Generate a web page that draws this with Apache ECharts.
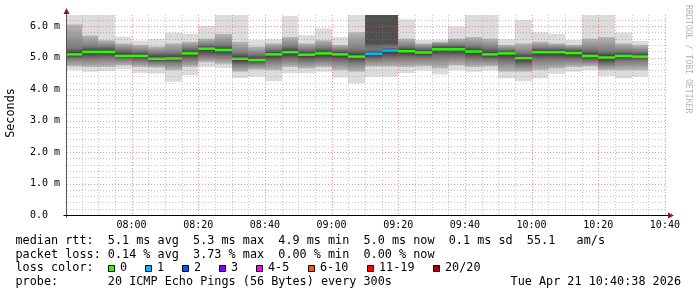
<!DOCTYPE html>
<html><head><meta charset="utf-8">
<script src="https://cdn.jsdelivr.net/npm/echarts@6/dist/echarts.min.js"></script>
<style>html,body{margin:0;padding:0;background:#fff}#c{width:697px;height:297px}</style>
</head><body><div id="c"></div>
<script>
// ---- data ----
const startTimes = ['07:40','07:45','07:50','07:55','08:00','08:05','08:10','08:15','08:20','08:25','08:30','08:35','08:40','08:45','08:50','08:55','09:00','09:05','09:10','09:15','09:20','09:25','09:30','09:35','09:40','09:45','09:50','09:55','10:00','10:05','10:10','10:15','10:20','10:25','10:30'];
const rttMin    = [4.60,4.55,4.57,4.63,4.51,4.49,4.23,4.44,4.70,4.67,4.35,4.39,4.25,4.50,4.50,4.55,4.37,4.18,4.39,4.39,4.51,4.59,4.46,4.60,4.55,4.59,4.34,4.25,4.34,4.48,4.55,4.60,4.41,4.34,4.39];
const rttLo2    = [4.72,4.70,4.70,4.75,4.70,4.68,4.60,4.70,4.85,4.80,4.55,4.62,4.60,4.70,4.65,4.70,4.60,4.55,4.71,4.71,4.70,4.72,4.65,4.75,4.70,4.72,4.55,4.55,4.60,4.65,4.70,4.72,4.60,4.60,4.60];
const rttLo1    = [4.98,4.98,5.00,4.95,4.92,4.85,4.85,4.95,5.05,5.05,4.78,4.80,4.90,4.95,4.90,4.92,4.90,4.85,4.95,4.98,5.00,5.00,5.05,5.05,4.98,4.95,4.90,4.78,4.95,4.95,4.95,4.90,4.80,4.90,4.92];
const rttMedian = [5.10,5.18,5.18,5.05,5.05,4.96,4.97,5.13,5.28,5.24,4.96,4.92,5.10,5.17,5.09,5.13,5.10,5.03,5.12,5.22,5.20,5.16,5.26,5.26,5.19,5.10,5.13,4.98,5.17,5.17,5.14,5.05,5.00,5.05,5.03];
const rttHi1    = [5.30,5.35,5.35,5.25,5.20,5.15,5.15,5.30,5.40,5.40,5.15,5.10,5.25,5.35,5.25,5.30,5.25,5.25,5.25,5.32,5.35,5.30,5.40,5.40,5.35,5.30,5.25,5.15,5.30,5.30,5.28,5.25,5.20,5.20,5.18];
const rttHi2    = [6.05,5.70,5.55,5.45,5.40,5.35,5.45,5.50,5.60,5.75,5.50,5.35,5.45,5.65,5.45,5.55,5.40,5.80,5.40,5.40,5.60,5.45,5.50,5.60,5.65,5.60,5.40,5.45,5.50,5.45,5.40,5.60,5.65,5.45,5.40];
const rttMax    = [7.00,7.00,7.00,5.66,5.54,5.59,5.79,5.75,6.00,7.00,7.00,5.56,5.58,6.32,5.71,5.93,5.65,7.00,7.00,7.00,6.21,5.56,5.57,5.98,7.00,7.00,5.58,6.19,5.80,5.75,5.56,7.00,7.00,5.79,5.53];
const lossCount = [0,0,0,0,0,0,0,0,0,0,0,0,0,0,0,0,0,0,1,1,0,0,0,0,0,0,0,0,0,0,0,0,0,0,0];

const xTickLabels = ['08:00','08:20','08:40','09:00','09:20','09:40','10:00','10:20','10:40'];
const axisStart = '07:40:38', axisEnd = '10:40:38';
const yAxisTitle = 'Seconds';
const lossLegendLabels = ['0','1','2','3','4-5','6-10','11-19','20/20'];
const lossLegendColors = ['#26ff00','#00b8ff','#0059ff','#7e00ff','#ff00ff','#ff5500','#ff0000','#a10000'];
const statLine1 = 'median rtt:  5.1 ms avg  5.3 ms max  4.9 ms min  5.0 ms now  0.1 ms sd  55.1   am/s';
const statLine2 = 'packet loss: 0.14 % avg  3.73 % max  0.00 % min  0.00 % now';
const statLine3 = 'loss color:';
const statLine4 = 'probe:       20 ICMP Echo Pings (56 Bytes) every 300s';
const stampText = 'Tue Apr 21 10:40:38 2026';
const watermark = 'RRDTOOL / TOBI OETIKER';

// ---- helpers ----
function toMin(s){const p=s.split(':').map(Number);return p[0]*60+p[1]+(p[2]||0)/60;}
const xMin = toMin(axisStart), xMax = toMin(axisEnd);
function lossIdx(n){ if(n<=3) return n; if(n<=5) return 4; if(n<=10) return 5; if(n<=19) return 6; return 7; }
const MONO = '"DejaVu Sans Mono", monospace';
const FS = 11.8;   // legend font
const AFS = 10;    // axis font

const smokeData = startTimes.map((t,i)=>[toMin(t), toMin(t)+5, rttMin[i], rttLo2[i], rttLo1[i], rttMedian[i], rttHi1[i], rttHi2[i], rttMax[i], lossCount[i]]);

function renderSmoke(params, api){
  const t0=api.value(0), t1=api.value(1);
  const x0=Math.round(api.coord([t0,0])[0]), x1=Math.round(api.coord([t1,0])[0]);
  const Y=v=>api.coord([t0,v])[1];
  const mn=api.value(2), lo2=api.value(3), lo1=api.value(4), med=api.value(5), hi1=api.value(6), hi2=api.value(7), mx=api.value(8), loss=api.value(9);
  const w=x1-x0;
  const ch=[];
  ch.push({type:'rect',shape:{x:x0,y:Y(mx),width:w,height:Y(mn)-Y(mx)},style:{fill:'#dcdcdc'}});
  if(loss>0){
    ch.push({type:'rect',shape:{x:x0,y:Y(mx),width:w,height:Y(hi2)-Y(mx)},style:{fill:'#505050'}});
  }
  const off=v=>Math.min(1,Math.max(0,(hi2-v)/(hi2-lo2)));
  ch.push({type:'rect',shape:{x:x0,y:Y(hi2),width:w,height:Y(lo2)-Y(hi2)},
    style:{fill:new echarts.graphic.LinearGradient(0,0,0,1,[
      {offset:0,color:loss>0?'#626262':'#b8b8b8'},
      {offset:off(hi1),color:'#7a7a7a'},
      {offset:off(med),color:'#323232'},
      {offset:off(lo1),color:'#767676'},
      {offset:1,color:'#b8b8b8'}])}});
  ch.push({type:'rect',shape:{x:x0,y:Y(med)-1.25,width:w,height:2.5},style:{fill:lossLegendColors[lossIdx(loss)]}});
  return {type:'group',children:ch};
}

function renderGrid(params, api){
  const ch=[];
  const left=api.coord([xMin,0])[0], right=api.coord([xMax,0])[0];
  const bottom=api.coord([xMin,0])[1], top=api.coord([xMin,6.35])[1];
  const minorC='rgba(130,130,130,0.45)', majorC='rgba(225,80,80,0.6)';
  for(let m=Math.ceil(xMin/5)*5; m<=xMax; m+=5){
    const x=Math.round(api.coord([m,0])[0])+0.5;
    const major=((m-480)%20===0);
    ch.push({type:'line',shape:{x1:x,y1:top,x2:x,y2:bottom},style:{stroke:major?majorC:minorC,lineWidth:1,lineDash:[1,2]}});
  }
  for(let i=1;i<=31;i++){
    const v=i*0.2;
    const y=Math.round(api.coord([xMin,v])[1])+0.5;
    const major=(i%5===0);
    ch.push({type:'line',shape:{x1:left,y1:y,x2:right,y2:y},style:{stroke:major?majorC:minorC,lineWidth:1,lineDash:[1,2]}});
  }
  const ax=Math.round(left)-0.5, ay=Math.round(bottom)+0.5;
  ch.push({type:'line',shape:{x1:ax,y1:ay+2,x2:ax,y2:top-3},style:{stroke:'#555',lineWidth:1}});
  ch.push({type:'polygon',shape:{points:[[ax-3,top-1],[ax+3,top-1],[ax,top-7]]},style:{fill:'#8b1a1a'}});
  ch.push({type:'line',shape:{x1:ax-3,y1:ay,x2:right+3,y2:ay},style:{stroke:'#000',lineWidth:1}});
  ch.push({type:'polygon',shape:{points:[[right+1,ay-3],[right+1,ay+3],[right+7,ay]]},style:{fill:'#8b1a1a'}});
  xTickLabels.forEach(l=>{
    const x=api.coord([toMin(l),0])[0];
    ch.push({type:'text',x:x,y:bottom+10.5,style:{text:l,font:AFS+'px '+MONO,fill:'#000',align:'center',verticalAlign:'middle',textAlign:'center',textVerticalAlign:'middle'}});
  });
  return {type:'group',children:ch};
}

const graphics=[];
function txt(text,x,y,align){
  align=align||'left';
  return {type:'text',x:x,y:y,style:{text:text,font:FS+'px '+MONO,fill:'#000',align:align,verticalAlign:'middle',textAlign:align,textVerticalAlign:'middle'}};
}
const CW=7.1;
graphics.push(txt(statLine1,15.5,241));
graphics.push(txt(statLine2,15.5,254.7));
graphics.push(txt(statLine3,15.5,268.3));
graphics.push(txt(statLine4,15.5,282));
graphics.push(txt(stampText,681,282,'right'));
let bx=108.5;
lossLegendLabels.forEach((l,i)=>{
  graphics.push({type:'rect',shape:{x:bx,y:265.5,width:6,height:6},style:{fill:lossLegendColors[i],stroke:'#000',lineWidth:1}});
  const lx=bx+11.5;
  graphics.push(txt(l,lx,268.3));
  bx=Math.round(lx+l.length*CW+18.3)+0.5;
});
graphics.push({type:'text',x:11,y:113,rotation:Math.PI/2,style:{text:yAxisTitle,font:FS+'px '+MONO,fill:'#000',align:'center',verticalAlign:'middle',textAlign:'center',textVerticalAlign:'middle'}});
graphics.push({type:'text',x:688,y:5,rotation:-Math.PI/2,style:{text:watermark,font:'8.2px '+MONO,fill:'#b4b4b4',align:'left',verticalAlign:'middle',textAlign:'left',textVerticalAlign:'middle'}});

const chart=echarts.init(document.getElementById('c'),null,{renderer:'canvas'});
chart.setOption({
  animation:false,
  backgroundColor:'#ffffff',
  grid:{left:67,top:15,width:600,height:200,containLabel:false},
  xAxis:{type:'value',min:xMin,max:xMax,axisLine:{show:false},axisTick:{show:false},axisLabel:{show:false},splitLine:{show:false}},
  yAxis:{type:'value',min:0,max:6.35,interval:1,axisLine:{show:false},axisTick:{show:false},splitLine:{show:false},
    axisLabel:{showMaxLabel:false,align:'left',margin:37,fontFamily:'DejaVu Sans Mono',fontSize:AFS,color:'#000',
      formatter:v=>{ if(Math.abs(v-Math.round(v))>1e-6) return ''; return v===0?'0.0':v.toFixed(1)+' m'; }}},
  series:[
    {type:'custom',clip:true,z:2,renderItem:renderSmoke,data:smokeData,encode:{x:[0,1],y:[2,8]}},
    {type:'custom',clip:false,z:3,renderItem:renderGrid,data:[[xMin,0]],encode:{x:0,y:1},silent:true}
  ],
  graphic:graphics
});
</script></body></html>
